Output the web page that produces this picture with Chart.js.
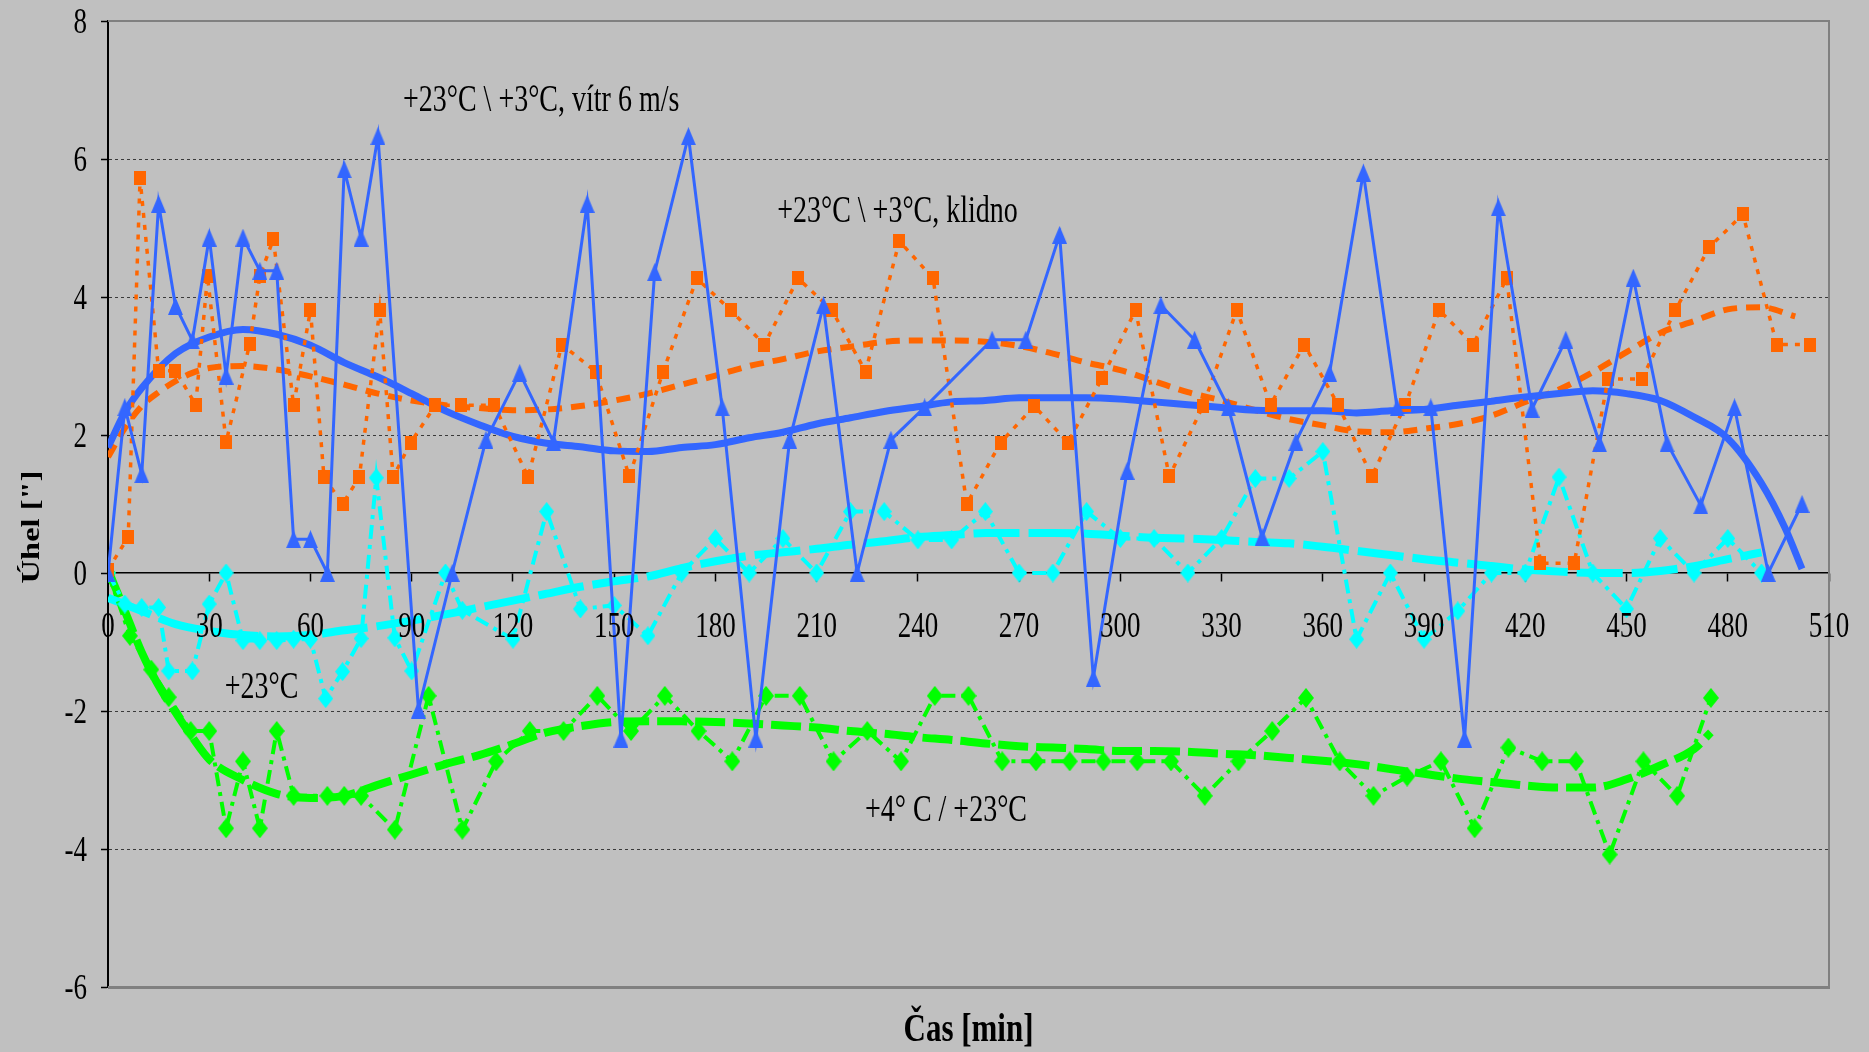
<!DOCTYPE html>
<html>
<head>
<meta charset="utf-8">
<script src="https://cdn.jsdelivr.net/npm/chart.js@4.4.1/dist/chart.umd.min.js"></script>
<style>
html, body { margin: 0; padding: 0; background: #c0c0c0; overflow: hidden; }
canvas { display: block; }
</style>
</head>
<body>
<canvas id="c" width="1869" height="1052"></canvas>
<script>
// ---- measured series: time [min] and angle ["] ----
// +23°C \ +3°C, vítr 6 m/s
const windT = [0,5,10,15,20,25,30,35,40,45,50,55,60,65,70,75,80,
  92,102,112,122,132,142,152,162,172,182,192,202,212,222,232,242,262,272,282,
  292,302,312,322,332,342,352,362,372,382,392,402,412,422,432,442,452,462,472,482,492,502];
const windV = [0,2.4,1.43,5.35,3.87,3.37,4.86,2.86,4.86,4.38,4.38,0.49,0.49,0,5.85,4.86,6.33,
  -1.98,0,1.93,2.9,1.9,5.35,-2.4,4.36,6.33,2.4,-2.4,1.93,3.88,0,1.93,2.4,3.38,3.38,4.9,
  -1.52,1.48,3.88,3.38,2.4,0.52,1.9,2.9,5.8,2.4,2.4,-2.4,5.3,2.38,3.38,1.88,4.28,1.88,0.98,2.4,0,1.0];

// +23°C \ +3°C, klidno
const calmT = [0,6,9.5,15,20,26,29.5,35,42,45,49,55,60,64,69.5,74.5,80.5,84.5,89.7,97,
  104.5,114.5,124.5,134.5,144.5,154.5,164.5,174.5,184.5,194.5,204.5,214.5,224.5,234.5,244.5,
  254.5,264.5,274.5,284.5,294.5,304.5,314.5,324.5,334.5,344.5,354.5,364.5,374.5,384.5,394.5,
  404.5,414.5,424.5,434.5,444.5,454.5,464.5,474.5,484.5,494.5,504.5];
const calmV = [0.05,0.52,5.72,2.93,2.93,2.44,4.3,1.9,3.32,4.3,4.84,2.43,3.81,1.39,1.0,1.39,3.81,1.39,1.89,2.43,
  2.43,2.43,1.39,3.31,2.92,1.4,2.92,4.27,3.81,3.31,4.27,3.81,2.92,4.81,4.27,
  1.0,1.89,2.42,1.89,2.82,3.81,1.4,2.42,3.81,2.44,3.31,2.44,1.4,2.44,3.81,
  3.31,4.27,0.14,0.14,2.81,2.81,3.81,4.72,5.2,3.31,3.31];

// +23°C
const warmT = [0,5,10,15,18,25,30,35,40,45,50,55,60,64.5,69.5,75,79.5,85,90,100,
  105,120,130,140,150,160,170,180,190,200,210,220,230,240,250,260,270,280,290,300,
  310,320,330,340,350,360,370,380,390,400,410,420,430,440,450,460,470,480,490];
const warmV = [0,-0.45,-0.5,-0.5,-1.42,-1.42,-0.45,0,-0.98,-0.98,-0.98,-0.96,-0.96,-1.82,-1.43,-0.95,1.38,-0.94,-1.42,0,
  -0.54,-0.96,0.89,-0.52,-0.47,-0.91,0,0.5,0,0.5,0,0.89,0.89,0.48,0.48,0.89,0,0,0.89,0.5,
  0.5,0,0.5,1.37,1.37,1.76,-0.96,0,-0.96,-0.55,0,0,1.39,0,-0.52,0.5,0,0.5,0];

// +4° C / +23°C
const coldT = [0,6.5,12.8,18,24.5,30,35,40,45,50,55,65,70,75,85,95,105,115,125,135,
  145,155,165,175,185,195,205,215,225,235,245,255,265,275,285,295,305,315,325,335,
  345,355,365,375,385,395,405,415,425,435,445,455,465,475];
const coldV = [0,-0.91,-1.4,-1.8,-2.29,-2.29,-3.7,-2.73,-3.7,-2.29,-3.23,-3.23,-3.23,-3.23,-3.72,-1.78,-3.72,-2.73,-2.29,-2.29,
  -1.78,-2.29,-1.78,-2.29,-2.73,-1.78,-1.78,-2.73,-2.29,-2.73,-1.78,-1.78,-2.73,-2.73,-2.73,-2.73,-2.73,-2.73,-3.23,-2.73,
  -2.29,-1.81,-2.73,-3.23,-2.95,-2.73,-3.7,-2.53,-2.73,-2.73,-4.08,-2.73,-3.23,-1.81];

// ---- smoothed trend curves ----
const windFitT = [0,5,10,20,30,40,50,60,70,80,90,100,110,120,130,140,150,160,170,180,190,200,210,220,230,240,250,
  260,270,280,290,300,310,320,330,340,350,360,370,380,390,400,410,420,430,440,450,460,470,480,490,497,502];
const windFitV = [1.82,2.33,2.68,3.18,3.42,3.53,3.46,3.3,3.05,2.84,2.6,2.35,2.15,1.98,1.88,1.83,1.77,1.76,1.82,1.86,1.96,2.04,2.16,2.25,2.34,2.41,2.48,
  2.5,2.54,2.54,2.54,2.52,2.48,2.44,2.4,2.36,2.35,2.35,2.32,2.35,2.37,2.43,2.49,2.55,2.6,2.64,2.6,2.5,2.26,1.95,1.3,0.65,0.06];

const calmFitT = [0,5,10,15,20,25,30,40,50,60,70,80,90,100,110,120,130,140,150,160,170,180,190,200,210,220,230,
  240,250,260,270,280,290,300,310,320,330,340,350,360,370,380,390,400,410,420,430,440,450,460,470,480,490,500];
const calmFitV = [1.68,2.1,2.42,2.62,2.78,2.9,2.97,3.0,2.95,2.85,2.73,2.6,2.5,2.43,2.39,2.36,2.37,2.42,2.5,2.6,2.73,2.86,3.0,3.1,3.21,3.28,3.35,
  3.37,3.37,3.35,3.29,3.18,3.05,2.94,2.78,2.62,2.5,2.36,2.23,2.14,2.05,2.04,2.09,2.16,2.28,2.48,2.66,2.91,3.2,3.48,3.65,3.82,3.85,3.72];

const warmFitT = [0,10,20,30,40,50,60,70,80,90,100,110,120,130,140,150,160,170,180,190,200,210,220,230,240,
  250,260,270,280,290,300,310,320,330,340,350,360,370,380,390,400,410,420,430,440,450,460,470,480,490];
const warmFitV = [-0.36,-0.55,-0.74,-0.84,-0.9,-0.92,-0.9,-0.83,-0.77,-0.69,-0.6,-0.5,-0.4,-0.3,-0.2,-0.12,-0.05,0.07,0.17,0.25,0.3,0.35,0.41,0.46,0.52,
  0.55,0.58,0.58,0.58,0.57,0.54,0.51,0.5,0.48,0.45,0.43,0.38,0.32,0.26,0.2,0.15,0.1,0.05,0.02,0,0,0.03,0.1,0.2,0.3];

const coldFitT = [0,5,10,15,20,25,30,40,50,60,70,80,90,100,110,120,130,140,150,160,170,180,190,200,210,220,230,
  240,250,260,270,280,290,300,310,320,330,340,350,360,370,380,390,400,410,420,430,440,450,460,470,475];
const coldFitV = [0.05,-0.55,-1.15,-1.63,-2.02,-2.38,-2.7,-3.0,-3.2,-3.26,-3.23,-3.07,-2.92,-2.77,-2.64,-2.48,-2.31,-2.22,-2.16,-2.15,-2.15,-2.16,-2.18,-2.21,-2.24,-2.29,-2.33,
  -2.38,-2.42,-2.47,-2.51,-2.53,-2.55,-2.58,-2.58,-2.59,-2.62,-2.64,-2.68,-2.72,-2.77,-2.84,-2.91,-2.98,-3.03,-3.08,-3.11,-3.11,-2.99,-2.79,-2.55,-2.31];

// ---- texts ----
const seriesLabels = ['+23°C \\ +3°C, vítr 6 m/s', '+23°C \\ +3°C, klidno', '+23°C', '+4° C / +23°C'];
const xTitle = 'Čas [min]';
const yTitle = 'Úhel ["]';

// label anchors (left edge, baseline) in axis units
const labelAnchors = [[87.4, 6.69], [198.3, 5.08], [34.6, -1.81], [224.3, -3.6]];

const BLUE = '#3366ff', ORANGE = '#ff6600', CYAN = '#00ffff', GREEN = '#00ff00';
const TEXT_STRETCH = 1.32;

function pts(t, v) { return t.map((x, i) => ({ x: x, y: v[i] })); }

function marker(shape, w, h, color) {
  const c = document.createElement('canvas');
  c.width = w; c.height = h;
  const g = c.getContext('2d');
  g.fillStyle = color;
  g.beginPath();
  if (shape === 'tri') {
    g.moveTo(w / 2, 0); g.lineTo(w, h); g.lineTo(0, h);
  } else if (shape === 'diamond') {
    g.moveTo(w / 2, 0); g.lineTo(w, h / 2); g.lineTo(w / 2, h); g.lineTo(0, h / 2);
  } else {
    g.rect(0, 0, w, h);
  }
  g.closePath();
  g.fill();
  return c;
}

function dataSet(t, v, color, width, dash, style) {
  return {
    data: pts(t, v), showLine: true, borderColor: color, backgroundColor: color,
    borderWidth: width, borderDash: dash, borderCapStyle: 'butt', borderJoinStyle: 'miter',
    pointStyle: style, pointRadius: 6, pointHoverRadius: 6, tension: 0
  };
}
function fitSet(t, v, color, width, dash) {
  return {
    data: pts(t, v), showLine: true, borderColor: color, backgroundColor: color,
    borderWidth: width, borderDash: dash, borderCapStyle: 'butt', borderJoinStyle: 'round',
    pointRadius: 0, pointHoverRadius: 0, cubicInterpolationMode: 'monotone'
  };
}

function stretchedText(ctx, str, x, y, font, align, sy) {
  ctx.save();
  ctx.translate(x, y);
  ctx.scale(1, sy);
  ctx.font = font;
  ctx.textAlign = align;
  ctx.textBaseline = 'alphabetic';
  ctx.fillStyle = '#000';
  ctx.fillText(str, 0, 0);
  ctx.restore();
}

const decor = {
  id: 'decor',
  beforeDraw(chart) {
    const ctx = chart.ctx;
    ctx.save();
    ctx.fillStyle = '#c0c0c0';
    ctx.fillRect(0, 0, chart.width, chart.height);
    ctx.restore();
  },
  beforeDatasetsDraw(chart) {
    const { ctx, chartArea: a } = chart;
    ctx.save();
    ctx.strokeStyle = '#808080';
    ctx.lineWidth = 2;
    ctx.beginPath();
    ctx.moveTo(a.left, a.top); ctx.lineTo(a.right, a.top); ctx.lineTo(a.right, a.bottom);
    ctx.stroke();
    ctx.lineWidth = 3;
    ctx.beginPath();
    ctx.moveTo(a.left, a.bottom + 0.5); ctx.lineTo(a.right + 1, a.bottom + 0.5);
    ctx.stroke();
    ctx.restore();
  },
  afterDraw(chart) {
    const { ctx, chartArea: a, scales } = chart;
    const xs = scales.x, ys = scales.y;
    const tickFont = '27px "Liberation Serif"';
    // y tick labels
    ys.ticks.forEach(tk => {
      const py = ys.getPixelForValue(tk.value);
      stretchedText(ctx, String(tk.value), 87, py + 12, tickFont, 'right', TEXT_STRETCH);
    });
    // x tick labels, hung below the zero line
    const y0 = ys.getPixelForValue(0);
    xs.ticks.forEach(tk => {
      const px = xs.getPixelForValue(tk.value);
      stretchedText(ctx, String(tk.value), px, y0 + 64, tickFont, 'center', TEXT_STRETCH);
    });
    // series labels
    seriesLabels.forEach((s, i) => {
      const [lx, ly] = labelAnchors[i];
      stretchedText(ctx, s, xs.getPixelForValue(lx), ys.getPixelForValue(ly),
        '28px "Liberation Serif"', 'left', TEXT_STRETCH);
    });
    // axis titles
    stretchedText(ctx, xTitle, (a.left + a.right) / 2, 1041, 'bold 31px "Liberation Serif"', 'center', 1.3);
    ctx.save();
    ctx.translate(39, (ys.getPixelForValue(-0.6) + ys.getPixelForValue(0.6)) / 2 - 46);
    ctx.rotate(-Math.PI / 2);
    ctx.scale(1.3, 1);
    ctx.font = 'bold 25px "Liberation Serif"';
    ctx.textAlign = 'center';
    ctx.textBaseline = 'alphabetic';
    ctx.fillStyle = '#000';
    ctx.fillText(yTitle, 0, 0);
    ctx.restore();
  }
};

const chart = new Chart(document.getElementById('c'), {
  type: 'scatter',
  data: {
    datasets: [
      dataSet(windT, windV, BLUE, 3, [], marker('tri', 15, 18, BLUE)),
      dataSet(calmT, calmV, ORANGE, 3.5, [5, 7], marker('square', 12, 14, ORANGE)),
      dataSet(warmT, warmV, CYAN, 4, [14, 6, 4, 6], marker('diamond', 15, 19, CYAN)),
      dataSet(coldT, coldV, GREEN, 4, [14, 6, 4, 6], marker('diamond', 16, 20, GREEN)),
      fitSet(windFitT, windFitV, BLUE, 7, []),
      fitSet(calmFitT, calmFitV, ORANGE, 6, [14, 9]),
      fitSet(warmFitT, warmFitV, CYAN, 8, [46, 9]),
      fitSet(coldFitT, coldFitV, GREEN, 8, [30, 8])
    ]
  },
  options: {
    responsive: false,
    devicePixelRatio: 1,
    animation: false,
    events: [],
    layout: { padding: { left: 0, top: 21, right: 40, bottom: 65 } },
    plugins: { legend: { display: false }, tooltip: { enabled: false } },
    scales: {
      x: {
        type: 'linear',
        position: { y: 0 },
        min: 0, max: 510,
        ticks: { stepSize: 30, maxTicksLimit: 20, display: false },
        grid: { display: true, drawOnChartArea: false, drawTicks: true, tickLength: 8, tickColor: '#000', tickWidth: 1.5 },
        border: { display: true, color: '#000', width: 1.5 },
        afterFit(s) { s.height = 0; }
      },
      y: {
        type: 'linear',
        position: 'left',
        min: -6, max: 8,
        ticks: { stepSize: 2, display: false },
        grid: {
          display: true, drawTicks: true, tickLength: 7, tickColor: '#000', tickWidth: 1.5,
          lineWidth: 1,
          color: (c) => (c.tick && (c.tick.value === 0 || c.tick.value === 8 || c.tick.value === -6)) ? 'rgba(0,0,0,0)' : '#3a3a3a'
        },
        border: { display: true, color: '#000', width: 2, dash: [3, 3] },
        afterFit(s) { s.width = 108; }
      }
    }
  },
  plugins: [decor]
});
</script>
</body>
</html>
